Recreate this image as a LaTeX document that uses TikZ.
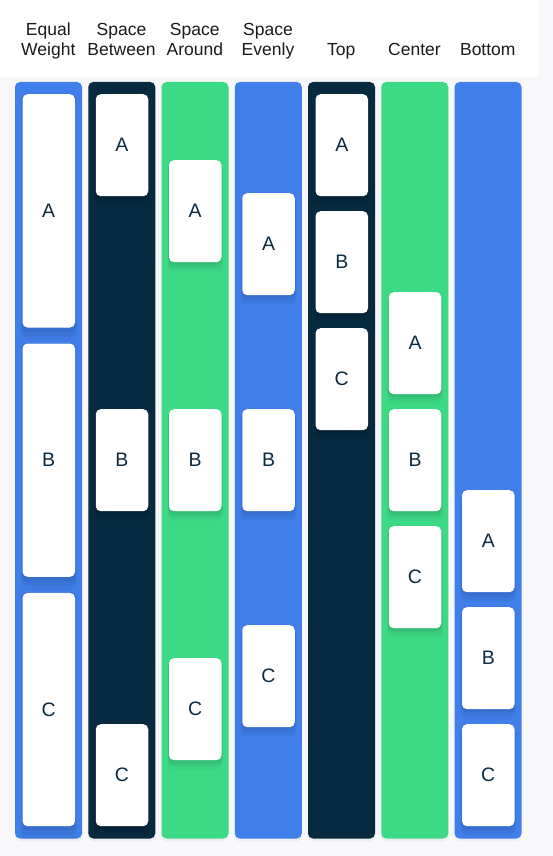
\documentclass[tikz,border=0pt]{standalone}
\usepackage{fontspec}
\setmainfont{Liberation Sans}
\usetikzlibrary{shadows}
\definecolor{bgc}{HTML}{F8F8FA}
\definecolor{bluec}{HTML}{407EEA}
\definecolor{navyc}{HTML}{072A40}
\definecolor{greenc}{HTML}{3DDA86}
\definecolor{txtc}{HTML}{1A1A1A}
\definecolor{cardtxt}{HTML}{0B2A3F}
\tikzset{
  softshadow/.style={
    general shadow={shadow xshift=0pt, shadow yshift=-2pt, shadow scale=1.02, fill=black, opacity=0.05},
    general shadow={shadow xshift=0pt, shadow yshift=-4pt, shadow scale=1.04, fill=black, opacity=0.04},
    general shadow={shadow xshift=0pt, shadow yshift=-6pt, shadow scale=1.06, fill=black, opacity=0.03}},
  colbox/.style={draw=none, rounded corners=5pt, anchor=north west, minimum width=67pt, minimum height=756.5pt, inner sep=0pt,
    drop shadow={shadow xshift=0pt, shadow yshift=-3pt, opacity=0.08}},
  card/.style={fill=white, draw=none, rounded corners=5pt, anchor=north west, minimum width=52.5pt, minimum height=102pt, inner sep=0pt,
    text=cardtxt, font=\fontsize{19.5}{22}\selectfont, softshadow},
  tallcard/.style={card, minimum height=233.3pt},
  head/.style={text=txtc, font=\fontsize{17.5}{20}\selectfont, align=center, anchor=base}
}
\begin{document}
\begin{tikzpicture}[x=1pt,y=-1pt]
\useasboundingbox (0,0) rectangle (553,856);
\fill[bgc] (0,0) rectangle (553,856);
\fill[white, rounded corners=6pt] (-10,-10) rectangle (539,77);
% headers
\node[head] (h1) at (48.3,36) {Equal};
\node[head] (h1b) at (48.3,56) {Weight};
\node[head] (h2) at (121.5,36) {Space};
\node[head] (h2b) at (121.5,56) {Between};
\node[head] (h3) at (194.8,36) {Space};
\node[head] (h3b) at (194.8,56) {Around};
\node[head] (h4) at (268,36) {Space};
\node[head] (h4b) at (268,56) {Evenly};
\node[head] (h5) at (341.3,56) {Top};
\node[head] (h6) at (414.5,56) {Center};
\node[head] (h7) at (487.8,56) {Bottom};
% columns
\node[colbox, fill=bluec] (c1) at (14.8,81.8) {};
\node[colbox, fill=navyc] (c2) at (88.05,81.8) {};
\node[colbox, fill=greenc] (c3) at (161.3,81.8) {};
\node[colbox, fill=bluec] (c4) at (234.55,81.8) {};
\node[colbox, fill=navyc] (c5) at (307.8,81.8) {};
\node[colbox, fill=greenc] (c6) at (381.05,81.8) {};
\node[colbox, fill=bluec] (c7) at (454.3,81.8) {};
% Equal weight
\node[tallcard] (ewA) at (22.3,94) {A};
\node[tallcard] (ewB) at (22.3,343.3) {B};
\node[tallcard] (ewC) at (22.3,592.7) {C};
% Space between
\node[card] (sbA) at (95.55,94) {A};
\node[card] (sbB) at (95.55,409) {B};
\node[card] (sbC) at (95.55,724) {C};
% Space around
\node[card] (saA) at (168.8,160) {A};
\node[card] (saB) at (168.8,409) {B};
\node[card] (saC) at (168.8,658) {C};
% Space evenly
\node[card] (seA) at (242.05,193) {A};
\node[card] (seB) at (242.05,409) {B};
\node[card] (seC) at (242.05,625) {C};
% Top
\node[card] (tA) at (315.3,94) {A};
\node[card] (tB) at (315.3,211) {B};
\node[card] (tC) at (315.3,328) {C};
% Center
\node[card] (cA) at (388.55,292) {A};
\node[card] (cB) at (388.55,409) {B};
\node[card] (cC) at (388.55,526) {C};
% Bottom
\node[card] (bA) at (461.8,490) {A};
\node[card] (bB) at (461.8,607) {B};
\node[card] (bC) at (461.8,724) {C};
\end{tikzpicture}
\end{document}
